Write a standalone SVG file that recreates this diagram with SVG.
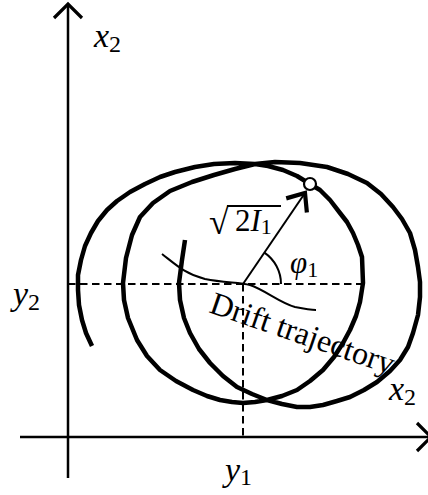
<svg xmlns="http://www.w3.org/2000/svg" width="428" height="495" viewBox="0 0 428 495">
<style>
.axis{fill:none;stroke:#000;stroke-width:2.5}
.dash{fill:none;stroke:#000;stroke-width:2;stroke-dasharray:7.5 4.5}
.thick{fill:none;stroke:#000;stroke-width:4.5;stroke-linejoin:round;stroke-linecap:butt}
.thin{fill:none;stroke:#000;stroke-width:2;stroke-linecap:butt}
.lbl{font-family:'Liberation Serif','Times New Roman',serif;fill:#000}
.it{font-style:italic}
</style>
<defs>
<marker id="axisHead" markerUnits="userSpaceOnUse" markerWidth="40" markerHeight="40" refX="0" refY="0" viewBox="-20 -20 40 40" orient="auto" overflow="visible">
<path d="M-14,-14 L0,0 L-14,14" fill="none" stroke="#000" stroke-width="3.2"/>
</marker>
<marker id="vecHead" markerUnits="userSpaceOnUse" markerWidth="40" markerHeight="40" refX="0" refY="0" viewBox="-20 -20 40 40" orient="auto" overflow="visible">
<path d="M-15,-12.5 L0,0 L-15,12.5" fill="none" stroke="#000" stroke-width="4.2"/>
</marker>
</defs>
<g id="axes">
<line class="axis" x1="68" y1="478" x2="68" y2="4" marker-end="url(#axisHead)"/>
<line class="axis" x1="20" y1="437" x2="431" y2="437" marker-end="url(#axisHead)"/>
</g>
<g id="guides">
<line class="dash" x1="68" y1="284" x2="363" y2="284"/>
<line class="dash" x1="243" y1="284" x2="243" y2="437"/>
</g>
<g id="orbit">
<path class="thick" d="M185,240 L182,260 L179,283 L180,300 L184,318 L190,333 L199,349 L210,363 L223,376 L237,387 L252,394 L267,400 L282,404 L297,407 L310,407 L323,405 L337,401 L350,397 L364,390 L377,382 L390,371 L400,360 L408,347 L413,333 L418,315 L420,297 L420,282 L418,267 L415,250 L410,233 L402,219 L393,207 L381,194 L367,183 L348,174 L327,167 L300,163 L275,162 L255,164 L235,169 L214,175 L192,182 L170,191 L153,203 L140,217 L132,235 L126,258 L123,283 L124,300 L128,318 L137,340 L147,356 L160,370 L176,381 L193,390 L207,396 L220,400 L232,402 L243,403 L255,402 L267,400 L282,396 L297,390 L310,381 L323,370 L334,357 L343,343 L350,330 L356,316 L360,302 L363,283 L362,257 L358,245 L353,233 L347,222 L340,213 L330,200 L320,190 L310,184 L297,176 L283,170 L268,166 L255,164 L235,163 L214,164 L195,167 L175,172 L160,177 L145,184 L130,192 L117,201 L107,210 L98,221 L91,233 L85,246 L81,260 L78,275 L78,290 L79,305 L82,320 L86,333 L92,346"/>
</g>
<g id="drift">
<path class="thin" d="M162,254 C175,264 185,274 205,279 C225,283 240,282 250,285 C265,290 280,303 295,307 C305,309 310,310 316,310"/>
</g>
<g id="vector">
<line class="thin" x1="243" y1="284" x2="305" y2="193" marker-end="url(#vecHead)"/>
<path class="thin" d="M281,284 A38,38 0 0 0 264.4,252.6"/>
<circle cx="310" cy="184" r="6" fill="#fff" stroke="#000" stroke-width="2.2"/>
</g>
<g id="labels">
<text class="lbl" x="94" y="47" font-size="34"><tspan class="it">x</tspan><tspan font-size="24" dy="5">2</tspan></text>
<text class="lbl" x="13" y="305" font-size="34"><tspan class="it">y</tspan><tspan font-size="24" dy="5">2</tspan></text>
<text class="lbl" x="225" y="481" font-size="34"><tspan class="it">y</tspan><tspan font-size="24" dy="4">1</tspan></text>
<text class="lbl" x="389" y="400" font-size="34"><tspan class="it">x</tspan><tspan font-size="24" dy="5">2</tspan></text>
<text class="lbl" x="290" y="273" font-size="31"><tspan class="it">φ</tspan><tspan font-size="22" dy="4">1</tspan></text>
<text class="lbl" x="209" y="234" font-size="36">√</text>
<line x1="227" y1="206" x2="281" y2="206" stroke="#000" stroke-width="1.8"/>
<text class="lbl" x="235" y="231" font-size="31">2<tspan class="it">I</tspan><tspan font-size="22" dy="3">1</tspan></text>
<text class="lbl" font-size="32" transform="translate(208,312) rotate(19)">Drift trajectory</text>
</g>
</svg>
